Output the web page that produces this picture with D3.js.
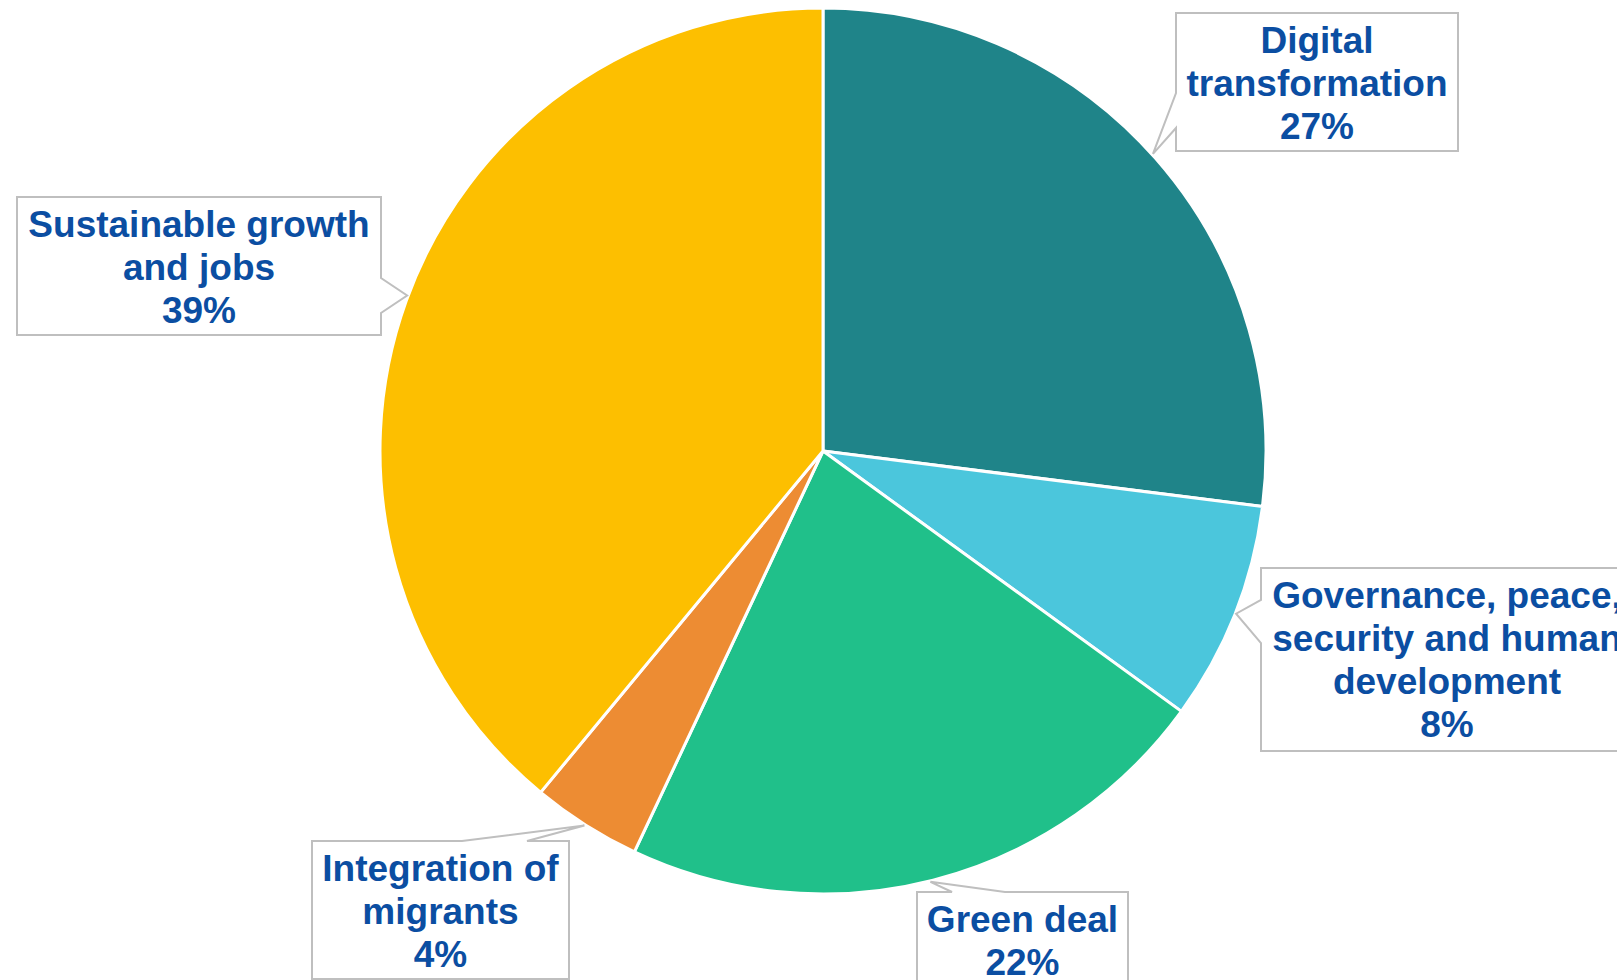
<!DOCTYPE html>
<html lang="en">
<head>
<meta charset="utf-8">
<title>Pie chart with callout labels</title>
<script src="https://cdn.jsdelivr.net/npm/d3@7"></script>
<style>
  html, body { margin: 0; padding: 0; background: #fff; }
</style>
</head>
<body>
<script>
// data
var categories = ["Digital transformation", "Governance, peace, security and human development", "Green deal", "Integration of migrants", "Sustainable growth and jobs"];
var shares = [27, 8, 22, 4, 39];
var labelLines = [
  ["Digital", "transformation"],
  ["Governance, peace,", "security and human", "development"],
  ["Green deal"],
  ["Integration of", "migrants"],
  ["Sustainable growth", "and jobs"]
];
var colors = ["#1f8489", "#4bc6dc", "#20c08a", "#ed8c33", "#fdbf00"];

// layout of the callout boxes (not data)
var boxes = [
  {x: 1176, y: 13, w: 282, h: 138, side: "left", a: 93, b: 128, tipDeg: 48},
  {x: 1261, y: 568, w: 372, h: 183, side: "left", a: 600, b: 643, tipDeg: 111.5},
  {x: 917, y: 892, w: 211, h: 110, side: "top", a: 952, b: 1005, tipDeg: 166},
  {x: 312, y: 841, w: 257, h: 138, side: "top", a: 462, b: 527, tipDeg: 212.5},
  {x: 17, y: 197, w: 364, h: 138, side: "right", a: 278, b: 313, tipDeg: 290.5}
];

var w = 1617, h = 980;
var cx = 823, cy = 451, r = 443;
var lineH = 43, fontSize = 37;

var svg = d3.select("body").append("svg")
  .attr("width", w)
  .attr("height", h);

var pie = d3.pie().sort(null).value(function(d) { return d; });
var arc = d3.arc().innerRadius(0).outerRadius(r);
var arcs = pie(shares);

var g = svg.append("g").attr("transform", "translate(" + cx + "," + cy + ")");

g.selectAll("path")
  .data(arcs)
  .enter()
  .append("path")
  .attr("d", arc)
  .attr("fill", function(d, i) { return colors[i]; })
  .attr("stroke", "#fff")
  .attr("stroke-width", 3)
  .attr("stroke-linejoin", "round");

// callout shape: rectangle with a pointer on one side
function calloutPath(bx, tip) {
  var x0 = bx.x, y0 = bx.y, x1 = bx.x + bx.w, y1 = bx.y + bx.h;
  var p = [[x0, y0]];
  if (bx.side === "top") p.push([bx.a, y0], tip, [bx.b, y0]);
  p.push([x1, y0]);
  if (bx.side === "right") p.push([x1, bx.a], tip, [x1, bx.b]);
  p.push([x1, y1], [x0, y1]);
  if (bx.side === "left") p.push([x0, bx.b], tip, [x0, bx.a]);
  return "M" + p.map(function(q) { return q[0] + "," + q[1]; }).join("L") + "Z";
}

var labels = svg.selectAll("g.callout")
  .data(arcs)
  .enter()
  .append("g")
  .attr("class", "callout");

labels.append("path")
  .attr("d", function(d, i) {
    var bx = boxes[i];
    var ang = bx.tipDeg * Math.PI / 180;
    var tip = [cx + (r + 1) * Math.sin(ang), cy - (r + 1) * Math.cos(ang)];
    return calloutPath(bx, tip);
  })
  .attr("fill", "#fff")
  .attr("stroke", "#bfbfbf")
  .attr("stroke-width", 2);

labels.append("text")
  .attr("text-anchor", "middle")
  .attr("font-family", "'Liberation Sans', Arial, sans-serif")
  .attr("font-weight", "bold")
  .attr("font-size", fontSize + "px")
  .attr("fill", "#0b4ea2")
  .each(function(d, i) {
    var bx = boxes[i];
    var lines = labelLines[i].concat([shares[i] + "%"]);
    var t = d3.select(this);
    lines.forEach(function(s, k) {
      t.append("tspan")
        .attr("x", bx.x + bx.w / 2)
        .attr("y", bx.y + 40 + k * lineH)
        .text(s);
    });
  });
</script>
</body>
</html>
